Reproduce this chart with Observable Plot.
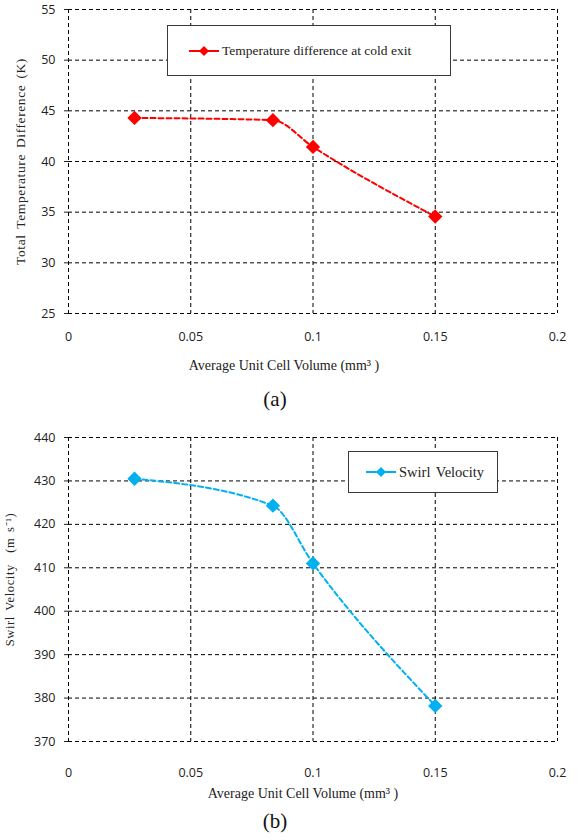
<!DOCTYPE html>
<html>
<head>
<meta charset="utf-8">
<script src="https://cdn.jsdelivr.net/npm/d3@7"></script>
<script src="https://cdn.jsdelivr.net/npm/@observablehq/plot@0.6"></script>
<style>
  html, body { margin: 0; padding: 0; background: #fff; }
  #page { position: relative; width: 584px; height: 840px; overflow: hidden; background: #fff; }
  .chart { position: absolute; left: 0; }
  .chart svg { font-family: "Open Sans", sans-serif; font-size: 12.5px; color: #222; }
  .legend { position: absolute; border: 1.5px solid #3a3a3a; background: #fff; box-sizing: border-box;
            font-family: "Liberation Serif", serif; color: #222; display: flex; align-items: center; }
  .legend svg { margin-right: 3px; }
  .caption { position: absolute; width: 60px; text-align: center; font-family: "Liberation Serif", serif; font-size: 21px; color: #111; }
</style>
</head>
<body>
<div id="page"></div>
<script>
// ---- data ----
const cellVolume = [0.027, 0.0836, 0.1, 0.15];
const tempDifference = [44.3, 44.08, 41.44, 34.57];
const swirlVelocity = [430.5, 424.3, 411.0, 378.2];
const xTicks = [0, 0.05, 0.1, 0.15, 0.2];
const yTicksA = [25, 30, 35, 40, 45, 50, 55];
const yTicksB = [370, 380, 390, 400, 410, 420, 430, 440];
const seriesA = "Temperature difference at cold exit";
const seriesB = "Swirl Velocity";
const xTitle = "Average Unit Cell Volume (mm³ )";
const yTitleA = "Total Temperature Difference (K)";
const yTitleB = "Swirl Velocity  (m s⁻¹)";
const colorA = "#FF0000";
const colorB = "#00B0F0";

const page = document.getElementById("page");

function makeChart({values, yTicks, yLabel, color, top, xTickPad, yLabelDx, yLabelDy, yLabelSize, xLabelDx}) {
  const rows = cellVolume.map((v, i) => ({x: v, y: values[i]}));
  const plot = Plot.plot({
    width: 584,
    height: 380,
    marginTop: 9,
    marginBottom: 67,
    marginLeft: 68,
    marginRight: 27,
    style: {background: "transparent", overflow: "visible"},
    x: {type: "linear", domain: [0, 0.2]},
    y: {type: "linear", domain: [yTicks[0], yTicks[yTicks.length - 1]]},
    marks: [
      Plot.gridX(xTicks, {stroke: "#000", strokeOpacity: 1, strokeWidth: 1, strokeDasharray: "4,3"}),
      Plot.gridY(yTicks, {stroke: "#000", strokeOpacity: 1, strokeWidth: 1, strokeDasharray: "4,3"}),
      Plot.axisX({ticks: xTicks, tickFormat: d => String(d), tickSize: 0, tickPadding: xTickPad, label: null}),
      Plot.axisY({ticks: yTicks, tickFormat: d => String(d), tickSize: 4, tickPadding: 9, label: null}),
      Plot.text([xTitle], {frameAnchor: "bottom", dy: 52, dx: xLabelDx, fontFamily: "Liberation Serif", fontSize: 14,
                           fill: "#222", lineAnchor: "middle", textAnchor: "middle"}),
      Plot.text([yLabel], {frameAnchor: "left", rotate: -90, dx: yLabelDx, dy: yLabelDy, fontFamily: "Liberation Serif",
                           fontSize: yLabelSize, fill: "#222", lineAnchor: "middle", textAnchor: "middle"}),
      Plot.line(rows, {x: "x", y: "y", stroke: color, strokeWidth: 2, strokeDasharray: "5,3", curve: "monotone-x"}),
      Plot.dot(rows, {x: "x", y: "y", symbol: "diamond2", fill: color, stroke: color, r: 5.5})
    ]
  });
  const textGroups = plot.querySelectorAll('g[aria-label="text"]');
  if (textGroups[1]) textGroups[1].querySelectorAll("text").forEach(t => { t.style.letterSpacing = "0.6px"; t.style.wordSpacing = "2px"; });
  const wrap = document.createElement("div");
  wrap.className = "chart";
  wrap.style.top = top + "px";
  wrap.appendChild(plot);
  page.appendChild(wrap);
}

makeChart({values: tempDifference, yTicks: yTicksA, yLabel: yTitleA, color: colorA, top: 0, xTickPad: 19,
           yLabelDx: -48, yLabelDy: 0, yLabelSize: 13.5, xLabelDx: -29});
makeChart({values: swirlVelocity, yTicks: yTicksB, yLabel: yTitleB, color: colorB, top: 428, xTickPad: 27,
           yLabelDx: -59, yLabelDy: -10, yLabelSize: 12.5, xLabelDx: -10});

function legend(text, color, left, top, width, height, padLeft, fontSize, wordSpacing) {
  const d = document.createElement("div");
  d.className = "legend";
  Object.assign(d.style, {left: left + "px", top: top + "px", width: width + "px", height: height + "px",
    paddingLeft: padLeft + "px", fontSize: fontSize + "px", wordSpacing: wordSpacing + "px"});
  d.innerHTML = `<svg width="30" height="12"><line x1="0" y1="6" x2="30" y2="6" stroke="${color}" stroke-width="2"/>` +
    `<path d="M15,1 L20,6 L15,11 L10,6 Z" fill="${color}"/></svg><span>${text}</span>`;
  page.appendChild(d);
}
legend(seriesA, colorA, 167, 25, 284, 51, 21, 13.5, 0);
legend(seriesB, colorB, 348, 451, 150, 42, 17, 14.5, 2);

function caption(text, centerX, top) {
  const c = document.createElement("div");
  c.className = "caption";
  c.style.left = (centerX - 30) + "px";
  c.style.top = top + "px";
  c.textContent = text;
  page.appendChild(c);
}
caption("(a)", 275, 387);
caption("(b)", 275, 809);
</script>
</body>
</html>
